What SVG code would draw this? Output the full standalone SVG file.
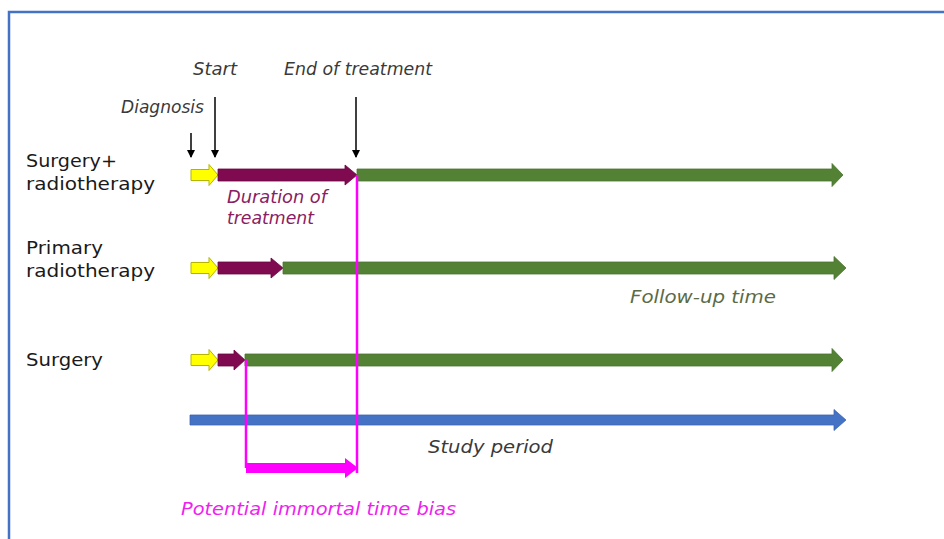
<svg xmlns="http://www.w3.org/2000/svg" width="944" height="539" viewBox="0 0 944 539">
  <style>
    .label { font-family: "DejaVu Sans", "Noto Sans", sans-serif; font-size: 18px; fill: #1a1a1a; }
    .note { font-family: "DejaVu Sans", "Noto Sans", sans-serif; font-size: 17px; font-style: italic; fill: #3a3a3a; }
    .yellow { fill: #ffff00; stroke: #b5b500; stroke-width: 1; }
    .maroon { fill: #7f0a4f; stroke: #6a0642; stroke-width: 0.8; }
    .green { fill: #548235; stroke: #4a7430; stroke-width: 0.8; }
    .blue { fill: #4472c4; stroke: #3d66b0; stroke-width: 0.8; }
    .magenta { fill: #ff00ff; }
    .bias { stroke: #ff00ff; stroke-width: 2.5; fill: none; }
    .tick { stroke: #000; stroke-width: 1.5; marker-end: url(#down); }
  </style>
  <defs>
    <marker id="down" markerWidth="8" markerHeight="8" refX="4" refY="7" orient="0" markerUnits="userSpaceOnUse">
      <path d="M0,0 L8,0 L4,8 Z" fill="#000"/>
    </marker>
  </defs>

  <rect width="944" height="539" fill="#ffffff"/>
  <!-- frame -->
  <path d="M9,539 L9,12 L944,12" fill="none" stroke="#4472c4" stroke-width="2.5"/>

  <!-- group labels -->
  <g id="row-surgery-radiotherapy">
    <text class="label" x="26" y="167" textLength="91" lengthAdjust="spacingAndGlyphs">Surgery+</text>
    <text class="label" x="26" y="190" textLength="129" lengthAdjust="spacingAndGlyphs">radiotherapy</text>
  </g>
  <g id="row-primary-radiotherapy">
    <text class="label" x="26" y="254" textLength="77" lengthAdjust="spacingAndGlyphs">Primary</text>
    <text class="label" x="26" y="277" textLength="129" lengthAdjust="spacingAndGlyphs">radiotherapy</text>
  </g>
  <g id="row-surgery">
    <text class="label" x="26" y="366" textLength="77" lengthAdjust="spacingAndGlyphs">Surgery</text>
  </g>

  <!-- time markers -->
  <g id="markers">
    <text class="note" x="121" y="113" textLength="83" lengthAdjust="spacingAndGlyphs">Diagnosis</text>
    <text class="note" x="193" y="75" textLength="44" lengthAdjust="spacingAndGlyphs">Start</text>
    <text class="note" x="284" y="75" textLength="148" lengthAdjust="spacingAndGlyphs">End of treatment</text>
    <line class="tick" x1="191" y1="133" x2="191" y2="157"/>
    <line class="tick" x1="215" y1="97" x2="215" y2="157"/>
    <line class="tick" x1="356" y1="97" x2="356" y2="157"/>
  </g>

  <!-- timelines -->
  <g id="timelines">
    <!-- row 1 -->
    <polygon class="yellow" points="191,169.5 209,169.5 209,164.5 218,175 209,185.5 209,180.5 191,180.5"/>
    <polygon class="maroon" points="218,169 345,169 345,165 357,175 345,185 345,181 218,181"/>
    <polygon class="green" points="357,169 832,169 832,163.5 843,175 832,186.5 832,181 357,181"/>
    <!-- row 2 -->
    <polygon class="yellow" points="191,262.5 209,262.5 209,257.5 218,268 209,278.5 209,273.5 191,273.5"/>
    <polygon class="maroon" points="218,262 271,262 271,258 283,268 271,278 271,274 218,274"/>
    <polygon class="green" points="283,262 834,262 834,256.5 846,268 834,279.5 834,274 283,274"/>
    <!-- row 3 -->
    <polygon class="yellow" points="191,354.5 209,354.5 209,349.5 218,360 209,370.5 209,365.5 191,365.5"/>
    <polygon class="maroon" points="218,354 234,354 234,350 245,360 234,370 234,366 218,366"/>
    <polygon class="green" points="245,354 832,354 832,348.5 843,360 832,371.5 832,366 245,366"/>
    <!-- study period -->
    <polygon class="blue" points="190,415 834,415 834,409.5 846,420 834,430.5 834,425 190,425"/>
  </g>

  <!-- immortal time connectors -->
  <g id="connectors">
    <line class="bias" x1="357" y1="175" x2="357" y2="473"/>
    <line class="bias" x1="246" y1="360" x2="246" y2="468"/>
    <polygon class="magenta" points="246,463 345,463 345,458 358,468 345,478 345,473 246,473"/>
  </g>

  <!-- annotations -->
  <g id="annotations">
    <text class="note" x="227" y="203" style="fill:#8a2063" textLength="100" lengthAdjust="spacingAndGlyphs">Duration of</text>
    <text class="note" x="227" y="224" style="fill:#8a2063" textLength="87" lengthAdjust="spacingAndGlyphs">treatment</text>
    <text class="note" x="630" y="303" style="fill:#5b6b45" textLength="146" lengthAdjust="spacingAndGlyphs">Follow-up time</text>
    <text class="note" x="428" y="453" textLength="125" lengthAdjust="spacingAndGlyphs">Study period</text>
    <text class="note" x="181" y="515" style="fill:#ee22ee" textLength="275" lengthAdjust="spacingAndGlyphs">Potential immortal time bias</text>
  </g>
</svg>
